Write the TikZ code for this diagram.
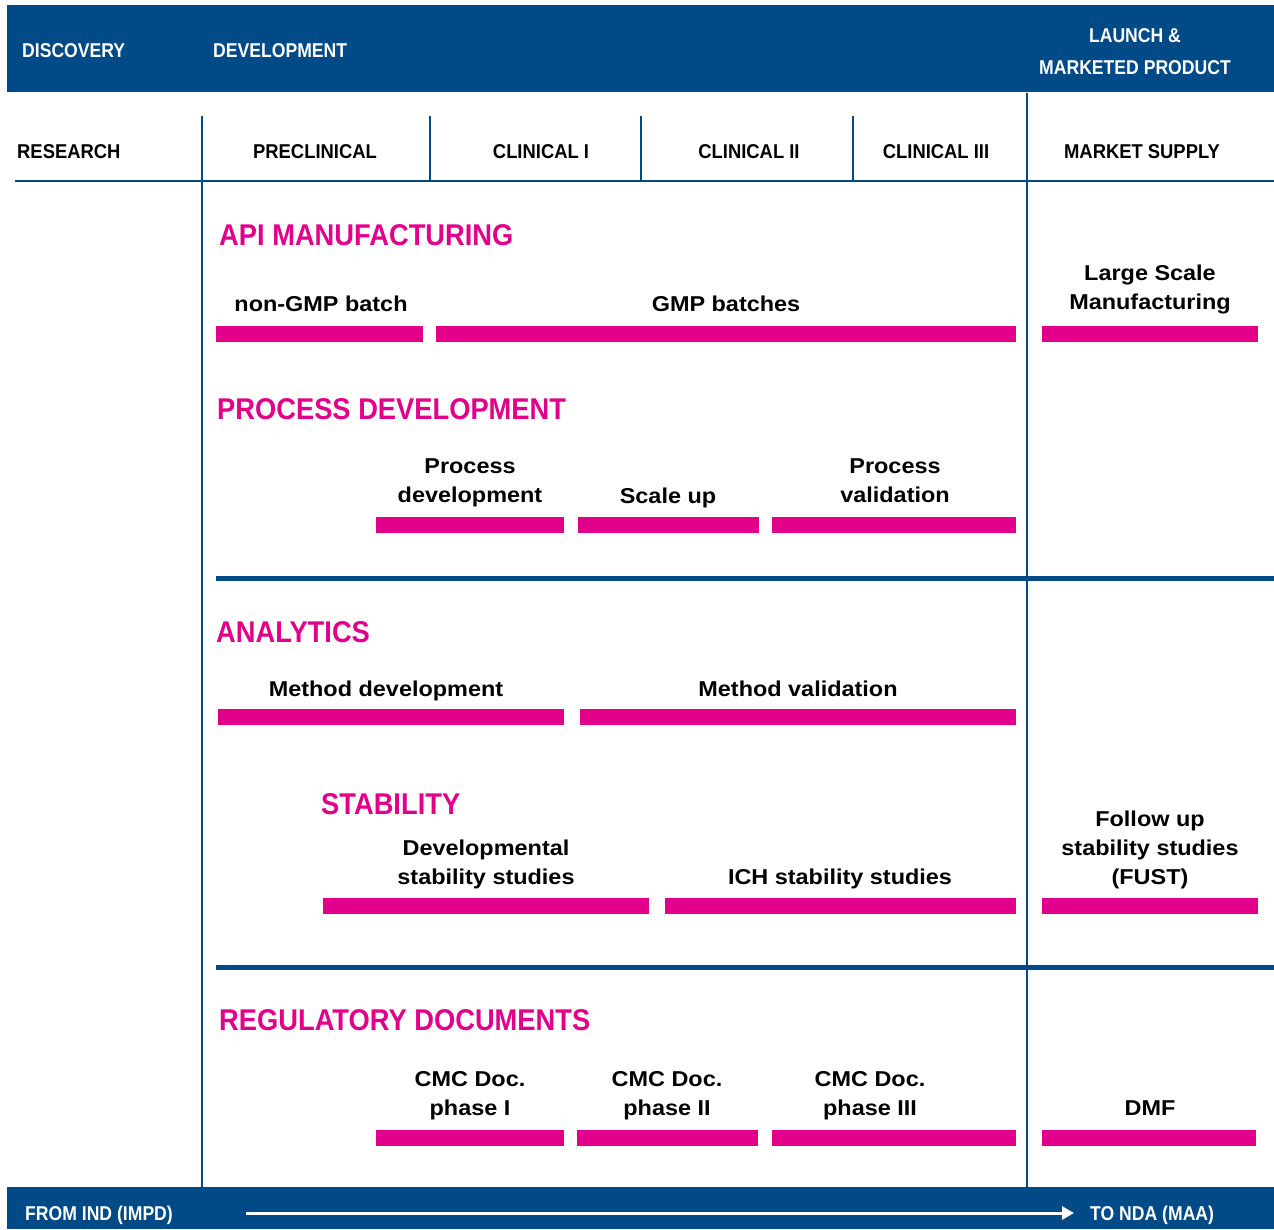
\documentclass[tikz,border=0pt]{standalone}
\usepackage{fontspec}
\setmainfont{Liberation Sans}
\newfontfamily\dinfont[FakeStretch=0.88]{Liberation Sans}
\newfontfamily\colfont[FakeStretch=0.92]{Liberation Sans}
\newfontfamily\sectfont[FakeStretch=0.91]{Liberation Sans}
\newfontfamily\lblfont[FakeStretch=1.09]{Liberation Sans}
\usetikzlibrary{arrows.meta}
\definecolor{navy}{HTML}{004A87}
\definecolor{pink}{HTML}{E2008A}
\begin{document}
\begin{tikzpicture}[x=1pt,y=-1pt,
  hdr/.style={font=\dinfont\bfseries\fontsize{20}{32}\selectfont, text=white, inner sep=0},
  colhdr/.style={font=\colfont\bfseries\fontsize{20}{24}\selectfont, text=black, inner sep=0, anchor=base},
  sect/.style={font=\sectfont\bfseries\fontsize{30}{34}\selectfont, text=pink, inner sep=0, anchor=base west},
  lbl/.style={font=\lblfont\bfseries\fontsize{21.5}{29}\selectfont, align=center, inner sep=0, anchor=north},
  pbar/.style={fill=pink, inner sep=0, minimum height=16, anchor=north west},
  band/.style={fill=navy, inner sep=0, anchor=north west},
  thin/.style={draw=navy, line width=1.3},
  thick/.style={draw=navy, line width=5}]
\useasboundingbox (0,0) rectangle (1274,1229);

% blue bands
\node[band, minimum width=1267, minimum height=87] (topband) at (7,5) {};
\node[band, minimum width=1267, minimum height=42] (botband) at (7,1187) {};

% grid lines
\coordinate (v1t) at (202,116); \coordinate (v1b) at (202,1187);
\coordinate (v2t) at (430,116); \coordinate (v2b) at (430,181);
\coordinate (v3t) at (641,116); \coordinate (v3b) at (641,181);
\coordinate (v4t) at (853,116); \coordinate (v4b) at (853,181);
\coordinate (v5t) at (1027,93); \coordinate (v5b) at (1027,1187);
\coordinate (h1l) at (15,181); \coordinate (h1r) at (1274,181);
\coordinate (h2l) at (216,578); \coordinate (h2r) at (1274,578);
\coordinate (h3l) at (216,967); \coordinate (h3r) at (1274,967);
\draw[thin] (v1t) -- (v1b);
\draw[thin] (v2t) -- (v2b);
\draw[thin] (v3t) -- (v3b);
\draw[thin] (v4t) -- (v4b);
\draw[thin] (v5t) -- (v5b);
\draw[thin] (h1l) -- (h1r);
\draw[thick] (h2l) -- (h2r);
\draw[thick] (h3l) -- (h3r);

% header texts
\node[hdr, anchor=base west] (disc) at (22,57) {DISCOVERY};
\node[hdr, anchor=base west] (devel) at (213,57) {DEVELOPMENT};
\node[hdr, anchor=north, align=center] (launch) at (1135,19.6) {\strut LAUNCH \&\\\strut MARKETED PRODUCT};

\node[colhdr, anchor=base west] (research) at (17,158) {RESEARCH};
\node[colhdr] (precl) at (315,158) {PRECLINICAL};
\node[colhdr] (cl1) at (541,158) {CLINICAL I};
\node[colhdr] (cl2) at (749,158) {CLINICAL II};
\node[colhdr] (cl3) at (936,158) {CLINICAL III};
\node[colhdr] (market) at (1142,158) {MARKET SUPPLY};

% section headings
\node[sect] (api) at (219,245) {API MANUFACTURING};
\node[sect] (procdev) at (217,419) {PROCESS DEVELOPMENT};
\node[sect] (analytics) at (216,642) {ANALYTICS};
\node[sect] (stability) at (321,814) {STABILITY};
\node[sect] (regdoc) at (219,1030) {REGULATORY DOCUMENTS};

% bars
\node[pbar, minimum width=207] (b11) at (216,326) {};
\node[pbar, minimum width=580] (b12) at (436,326) {};
\node[pbar, minimum width=216] (b13) at (1042,326) {};
\node[pbar, minimum width=188] (b21) at (376,517) {};
\node[pbar, minimum width=181] (b22) at (578,517) {};
\node[pbar, minimum width=244] (b23) at (772,517) {};
\node[pbar, minimum width=346] (b31) at (218,709) {};
\node[pbar, minimum width=436] (b32) at (580,709) {};
\node[pbar, minimum width=326] (b41) at (323,898) {};
\node[pbar, minimum width=351] (b42) at (665,898) {};
\node[pbar, minimum width=216] (b43) at (1042,898) {};
\node[pbar, minimum width=188] (b51) at (376,1130) {};
\node[pbar, minimum width=181] (b52) at (577,1130) {};
\node[pbar, minimum width=244] (b53) at (772,1130) {};
\node[pbar, minimum width=214] (b54) at (1042,1130) {};

% labels
\node[lbl] (l11) at (321,290.7) {\strut non-GMP batch};
\node[lbl] (l12) at (726,290.7) {\strut GMP batches};
\node[lbl] (l13) at (1150,259.7) {\strut Large Scale\\\strut Manufacturing};
\node[lbl] (l21) at (470,452.7) {\strut Process\\\strut development};
\node[lbl] (l22) at (668,482.7) {\strut Scale up};
\node[lbl] (l23) at (895,452.7) {\strut Process\\\strut validation};
\node[lbl] (l31) at (386,675.7) {\strut Method development};
\node[lbl] (l32) at (798,675.7) {\strut Method validation};
\node[lbl] (l41) at (486,834.7) {\strut Developmental\\\strut stability studies};
\node[lbl] (l42) at (840,863.7) {\strut ICH stability studies};
\node[lbl] (l43) at (1150,806.2) {\strut Follow up\\\strut stability studies\\\strut (FUST)};
\node[lbl] (l51) at (470,1065.7) {\strut CMC Doc.\\\strut phase I};
\node[lbl] (l52) at (667,1065.7) {\strut CMC Doc.\\\strut phase II};
\node[lbl] (l53) at (870,1065.7) {\strut CMC Doc.\\\strut phase III};
\node[lbl] (l54) at (1150,1094.7) {\strut DMF};

% bottom band
\node[hdr, anchor=base west] (fromind) at (25,1220) {FROM IND (IMPD)};
\node[hdr, anchor=base west] (tonda) at (1090,1220) {TO NDA (MAA)};
\coordinate (arrS) at (246,1213);
\coordinate (arrE) at (1074,1213);
\draw[white, line width=3, -{Triangle[length=12,width=13]}] (arrS) -- (arrE);
\end{tikzpicture}
\end{document}
